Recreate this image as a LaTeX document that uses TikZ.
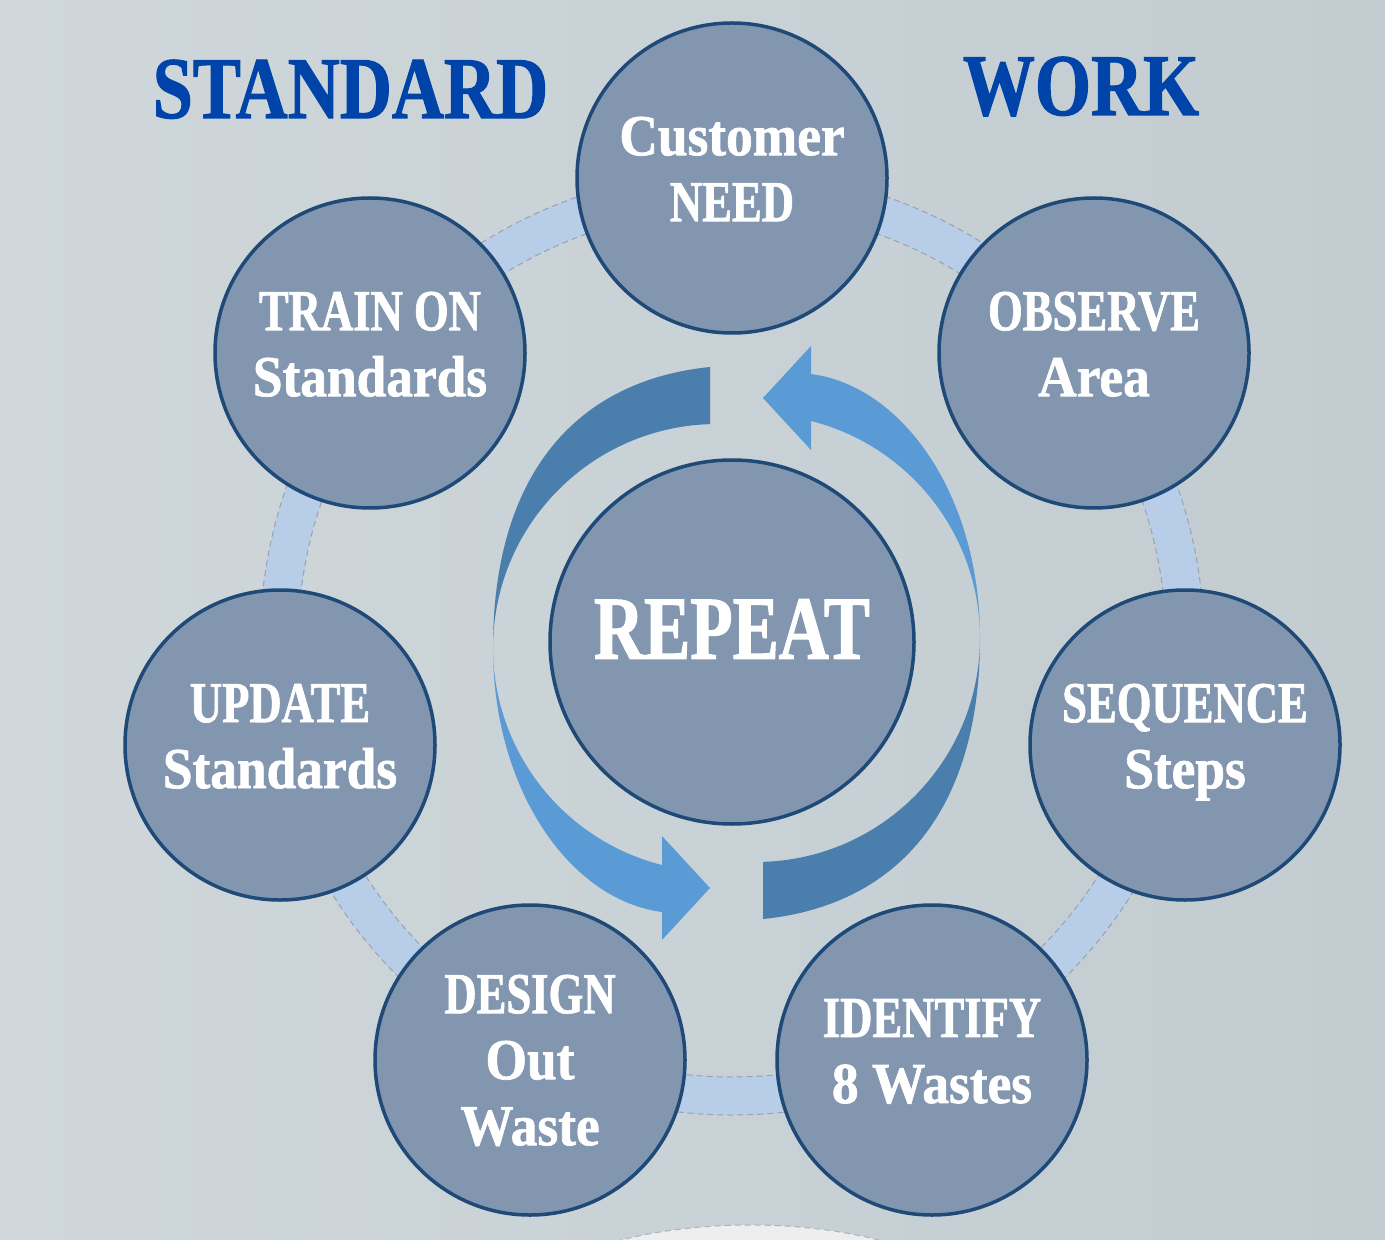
\documentclass[tikz,border=0pt]{standalone}
\usepackage{fontspec}
\setmainfont{Liberation Serif}
\newfontfamily\ftcap[FakeStretch=0.77,FakeBold=1.2]{Liberation Serif}
\newfontfamily\ftlow[FakeStretch=0.92,FakeBold=1.2]{Liberation Serif}
\newfontfamily\fthead[FakeStretch=0.82,FakeBold=1.2]{Liberation Serif}
\definecolor{bgl}{HTML}{CFD7DA}
\definecolor{bgr}{HTML}{C2CCD1}
\definecolor{cfill}{HTML}{8296B0}
\definecolor{cborder}{HTML}{1F4A78}
\definecolor{cring}{HTML}{B8CDE8}
\definecolor{ctitle}{HTML}{0044AA}
\definecolor{adark}{HTML}{4A7EAC}
\definecolor{alight}{HTML}{5B9BD5}
\definecolor{cpale}{HTML}{ECEEEF}
\begin{document}
\begin{tikzpicture}[x=0.5pt,y=0.5pt,
  stepcirc/.style={circle, draw=cborder, line width=1.75pt, fill=cfill,
    minimum size=155pt, inner sep=0pt, text=white, align=center, text depth=9pt,
    font=\bfseries\fontsize{29}{33}\selectfont},
  centercirc/.style={stepcirc, minimum size=182pt, text depth=13pt,
    font=\bfseries\ftcap\fontsize{45}{50}\selectfont},
  titletext/.style={text=ctitle, inner sep=0pt, anchor=base,
    font=\fthead\bfseries\fontsize{44}{50}\selectfont},
  ringband/.style={draw=cring, line width=19pt},
  ringedge/.style={draw=gray!55!cring, line width=0.5pt, dash pattern=on 3pt off 2pt},
  darkpart/.style={fill=adark},
  lightpart/.style={fill=alight}]
\useasboundingbox (0,0) rectangle (1385,-1240);
\clip (0,0) rectangle (1385,-1240);
% background
\shade[left color=bgl, right color=bgr] (0,0) rectangle (1385,-1240);
% pale shape at the bottom
\fill[cpale] (750,-1330) ellipse[x radius=250, y radius=105];
\draw[ringedge, draw=gray!60] (750,-1330) ellipse[x radius=250, y radius=105];
% ring
\draw[ringband] (732,-643) circle[radius=453];
\draw[ringedge] (732,-643) circle[radius=472];
\draw[ringedge] (732,-643) circle[radius=434];
% circular arrows
\foreach \r in {0,180}{
  \begin{scope}[rotate around={\r:(736.5,-643)}]
    \fill[darkpart] (710,-367) .. controls (580,-380) and (493,-470) .. (493,-648)
      arc[start angle=180, end angle=91.79, radius=224] -- cycle;
    \fill[lightpart] (493,-648) .. controls (493,-790) and (570,-900) .. (662,-912)
      -- (662,-940) -- (710,-888) -- (662,-836) -- (662,-865)
      arc[start angle=255.78, end angle=180, radius=224] -- cycle;
  \end{scope}
}
% titles
\node[titletext] (standard) at (350.5,-118) {STANDARD};
\node[titletext] (work) at (1081,-115) {WORK};
% circles
\node[centercirc] (repeat) at (732,-642) {REPEAT};
\node[stepcirc] (need) at (732,-178) {{\ftlow Customer}\\{\ftcap NEED}};
\node[stepcirc] (observe) at (1094,-353) {{\ftcap OBSERVE}\\{\ftlow Area}};
\node[stepcirc] (sequence) at (1185,-745) {{\ftcap SEQUENCE}\\{\ftlow Steps}};
\node[stepcirc] (identify) at (932,-1060) {{\ftcap IDENTIFY}\\{\ftlow 8 Wastes}};
\node[stepcirc, text depth=0pt] (design) at (530,-1060) {{\ftcap DESIGN}\\{\ftlow Out}\\{\ftlow Waste}};
\node[stepcirc] (update) at (280,-745) {{\ftcap UPDATE}\\{\ftlow Standards}};
\node[stepcirc] (train) at (370,-353) {{\ftcap TRAIN ON}\\{\ftlow Standards}};
\end{tikzpicture}
\end{document}
